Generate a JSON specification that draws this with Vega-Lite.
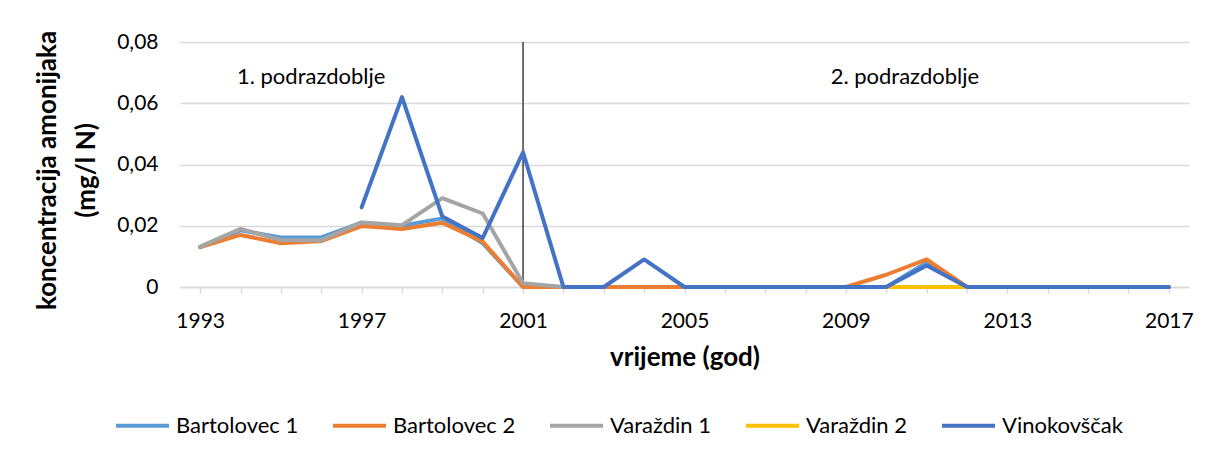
{
  "$schema": "https://vega.github.io/schema/vega-lite/v6.json",
  "width": 1009,
  "height": 245,
  "autosize": {"type": "none"},
  "padding": {"left": 180, "top": 42, "right": 19, "bottom": 172},
  "background": "white",
  "config": {
    "font": "Lato",
    "view": {"stroke": null},
    "axis": {"labelColor": "#000000", "titleColor": "#000000", "labelFontSize": 21, "titleFontSize": 26, "titleFontWeight": "bold", "labelFont": "Lato", "titleFont": "Lato"}
  },
  "datasets": {
    "mjerenja": [
      {"god": 1993, "postaja": "Bartolovec 1", "c": 0.013},
      {"god": 1994, "postaja": "Bartolovec 1", "c": 0.0185},
      {"god": 1995, "postaja": "Bartolovec 1", "c": 0.0162},
      {"god": 1996, "postaja": "Bartolovec 1", "c": 0.0162},
      {"god": 1997, "postaja": "Bartolovec 1", "c": 0.021},
      {"god": 1998, "postaja": "Bartolovec 1", "c": 0.020},
      {"god": 1999, "postaja": "Bartolovec 1", "c": 0.0224},
      {"god": 2000, "postaja": "Bartolovec 1", "c": 0.0143},
      {"god": 2001, "postaja": "Bartolovec 1", "c": 0},
      {"god": 2002, "postaja": "Bartolovec 1", "c": 0},
      {"god": 2003, "postaja": "Bartolovec 1", "c": 0},
      {"god": 2004, "postaja": "Bartolovec 1", "c": 0},
      {"god": 2005, "postaja": "Bartolovec 1", "c": 0},
      {"god": 2006, "postaja": "Bartolovec 1", "c": 0},
      {"god": 2007, "postaja": "Bartolovec 1", "c": 0},
      {"god": 2008, "postaja": "Bartolovec 1", "c": 0},
      {"god": 2009, "postaja": "Bartolovec 1", "c": 0},
      {"god": 2010, "postaja": "Bartolovec 1", "c": 0},
      {"god": 2011, "postaja": "Bartolovec 1", "c": 0.008},
      {"god": 2012, "postaja": "Bartolovec 1", "c": 0},
      {"god": 2013, "postaja": "Bartolovec 1", "c": 0},
      {"god": 2014, "postaja": "Bartolovec 1", "c": 0},
      {"god": 2015, "postaja": "Bartolovec 1", "c": 0},
      {"god": 2016, "postaja": "Bartolovec 1", "c": 0},
      {"god": 2017, "postaja": "Bartolovec 1", "c": 0},
      {"god": 1993, "postaja": "Bartolovec 2", "c": 0.013},
      {"god": 1994, "postaja": "Bartolovec 2", "c": 0.017},
      {"god": 1995, "postaja": "Bartolovec 2", "c": 0.0143},
      {"god": 1996, "postaja": "Bartolovec 2", "c": 0.015},
      {"god": 1997, "postaja": "Bartolovec 2", "c": 0.0199},
      {"god": 1998, "postaja": "Bartolovec 2", "c": 0.0189},
      {"god": 1999, "postaja": "Bartolovec 2", "c": 0.021},
      {"god": 2000, "postaja": "Bartolovec 2", "c": 0.0148},
      {"god": 2001, "postaja": "Bartolovec 2", "c": 0},
      {"god": 2002, "postaja": "Bartolovec 2", "c": 0},
      {"god": 2003, "postaja": "Bartolovec 2", "c": 0},
      {"god": 2004, "postaja": "Bartolovec 2", "c": 0},
      {"god": 2005, "postaja": "Bartolovec 2", "c": 0},
      {"god": 2006, "postaja": "Bartolovec 2", "c": 0},
      {"god": 2007, "postaja": "Bartolovec 2", "c": 0},
      {"god": 2008, "postaja": "Bartolovec 2", "c": 0},
      {"god": 2009, "postaja": "Bartolovec 2", "c": 0},
      {"god": 2010, "postaja": "Bartolovec 2", "c": 0.004},
      {"god": 2011, "postaja": "Bartolovec 2", "c": 0.009},
      {"god": 2012, "postaja": "Bartolovec 2", "c": 0},
      {"god": 2013, "postaja": "Bartolovec 2", "c": 0},
      {"god": 2014, "postaja": "Bartolovec 2", "c": 0},
      {"god": 2015, "postaja": "Bartolovec 2", "c": 0},
      {"god": 2016, "postaja": "Bartolovec 2", "c": 0},
      {"god": 2017, "postaja": "Bartolovec 2", "c": 0},
      {"god": 1993, "postaja": "Varaždin 1", "c": 0.0132},
      {"god": 1994, "postaja": "Varaždin 1", "c": 0.019},
      {"god": 1995, "postaja": "Varaždin 1", "c": 0.0153},
      {"god": 1996, "postaja": "Varaždin 1", "c": 0.0153},
      {"god": 1997, "postaja": "Varaždin 1", "c": 0.0211},
      {"god": 1998, "postaja": "Varaždin 1", "c": 0.0202},
      {"god": 1999, "postaja": "Varaždin 1", "c": 0.029},
      {"god": 2000, "postaja": "Varaždin 1", "c": 0.024},
      {"god": 2001, "postaja": "Varaždin 1", "c": 0.0012},
      {"god": 2002, "postaja": "Varaždin 1", "c": 0},
      {"god": 2003, "postaja": "Varaždin 1", "c": 0},
      {"god": 2004, "postaja": "Varaždin 1", "c": null},
      {"god": 2005, "postaja": "Varaždin 1", "c": 0},
      {"god": 2006, "postaja": "Varaždin 1", "c": 0},
      {"god": 2007, "postaja": "Varaždin 1", "c": 0},
      {"god": 2008, "postaja": "Varaždin 1", "c": 0},
      {"god": 2009, "postaja": "Varaždin 1", "c": 0},
      {"god": 2010, "postaja": "Varaždin 1", "c": 0},
      {"god": 2011, "postaja": "Varaždin 1", "c": 0},
      {"god": 2012, "postaja": "Varaždin 1", "c": 0},
      {"god": 2013, "postaja": "Varaždin 1", "c": 0},
      {"god": 2014, "postaja": "Varaždin 1", "c": 0},
      {"god": 2015, "postaja": "Varaždin 1", "c": 0},
      {"god": 2016, "postaja": "Varaždin 1", "c": 0},
      {"god": 2017, "postaja": "Varaždin 1", "c": 0},
      {"god": 2005, "postaja": "Varaždin 2", "c": 0},
      {"god": 2006, "postaja": "Varaždin 2", "c": 0},
      {"god": 2007, "postaja": "Varaždin 2", "c": 0},
      {"god": 2008, "postaja": "Varaždin 2", "c": 0},
      {"god": 2009, "postaja": "Varaždin 2", "c": 0},
      {"god": 2010, "postaja": "Varaždin 2", "c": 0},
      {"god": 2011, "postaja": "Varaždin 2", "c": 0},
      {"god": 2012, "postaja": "Varaždin 2", "c": 0},
      {"god": 2013, "postaja": "Varaždin 2", "c": 0},
      {"god": 2014, "postaja": "Varaždin 2", "c": 0},
      {"god": 2015, "postaja": "Varaždin 2", "c": 0},
      {"god": 2016, "postaja": "Varaždin 2", "c": 0},
      {"god": 2017, "postaja": "Varaždin 2", "c": 0},
      {"god": 1997, "postaja": "Vinokovščak", "c": 0.026},
      {"god": 1998, "postaja": "Vinokovščak", "c": 0.062},
      {"god": 1999, "postaja": "Vinokovščak", "c": 0.023},
      {"god": 2000, "postaja": "Vinokovščak", "c": 0.016},
      {"god": 2001, "postaja": "Vinokovščak", "c": 0.044},
      {"god": 2002, "postaja": "Vinokovščak", "c": 0},
      {"god": 2003, "postaja": "Vinokovščak", "c": 0},
      {"god": 2004, "postaja": "Vinokovščak", "c": 0.009},
      {"god": 2005, "postaja": "Vinokovščak", "c": 0},
      {"god": 2006, "postaja": "Vinokovščak", "c": 0},
      {"god": 2007, "postaja": "Vinokovščak", "c": 0},
      {"god": 2008, "postaja": "Vinokovščak", "c": 0},
      {"god": 2009, "postaja": "Vinokovščak", "c": 0},
      {"god": 2010, "postaja": "Vinokovščak", "c": 0},
      {"god": 2011, "postaja": "Vinokovščak", "c": 0.007},
      {"god": 2012, "postaja": "Vinokovščak", "c": 0},
      {"god": 2013, "postaja": "Vinokovščak", "c": 0},
      {"god": 2014, "postaja": "Vinokovščak", "c": 0},
      {"god": 2015, "postaja": "Vinokovščak", "c": 0},
      {"god": 2016, "postaja": "Vinokovščak", "c": 0},
      {"god": 2017, "postaja": "Vinokovščak", "c": 0}
    ],
    "granica": [{"god": 2001}],
    "oznake": [
      {"god": 1995.75, "c": 0.0686, "tekst": "1. podrazdoblje"},
      {"god": 2010.46, "c": 0.0686, "tekst": "2. podrazdoblje"}
    ]
  },
  "layer": [
    {
      "data": {"name": "granica"},
      "mark": {"type": "rule", "color": "#404040", "strokeWidth": 1.5},
      "encoding": {
        "x": {"field": "god", "type": "quantitative", "title": "vrijeme (god)", "scale": {"domain": [1992.5, 2017.5], "nice": false, "zero": false}}
      }
    },
    {
      "data": {"name": "mjerenja"},
      "mark": {"type": "line", "strokeWidth": 4, "strokeJoin": "round", "strokeCap": "round", "invalid": "break-paths-show-domains"},
      "encoding": {
        "x": {
          "field": "god", "type": "quantitative", "title": "vrijeme (god)",
          "scale": {"domain": [1992.5, 2017.5], "nice": false, "zero": false},
          "axis": {
            "values": [1993, 1994, 1995, 1996, 1997, 1998, 1999, 2000, 2001, 2002, 2003, 2004, 2005, 2006, 2007, 2008, 2009, 2010, 2011, 2012, 2013, 2014, 2015, 2016, 2017],
            "labelExpr": "(datum.value - 1993) % 4 == 0 ? format(datum.value, 'd') : ''",
            "grid": false,
            "domainColor": "#d9d9d9", "domainWidth": 1.5,
            "tickColor": "#d9d9d9", "tickWidth": 1.5, "tickSize": 6,
            "labelPadding": 17, "labelFlush": false, "labelOverlap": false,
            "titlePadding": 13
          }
        },
        "y": {
          "field": "c", "type": "quantitative", "title": ["koncentracija amonijaka", "(mg/l N)"],
          "scale": {"domain": [0, 0.08], "nice": false},
          "axis": {
            "values": [0, 0.02, 0.04, 0.06, 0.08],
            "labelExpr": "datum.value == 0 ? '0' : replace(format(datum.value, '.2f'), '.', ',')",
            "grid": true, "gridColor": "#d9d9d9", "gridWidth": 1.5,
            "domain": false, "ticks": false,
            "labelPadding": 22,
            "titleLineHeight": 39,
            "titleAngle": -90,
            "titleX": -146, "titleY": 128, "titleAlign": "center", "titleBaseline": "top"
          }
        },
        "color": {
          "field": "postaja", "type": "nominal",
          "scale": {"domain": ["Bartolovec 1", "Bartolovec 2", "Varaždin 1", "Varaždin 2", "Vinokovščak"], "range": ["#5B9BD5", "#ED7D31", "#A5A5A5", "#FFC000", "#4472C4"]},
          "legend": {
            "title": null, "orient": "none", "direction": "horizontal",
            "legendX": -66, "legendY": 355,
            "symbolType": "stroke", "symbolSize": 2809, "symbolStrokeWidth": 4,
            "labelFontSize": 22, "labelFont": "Lato", "labelColor": "#000000",
            "labelOffset": 5, "columnPadding": 26, "padding": 0
          }
        }
      }
    },
    {
      "data": {"name": "oznake"},
      "mark": {"type": "text", "fontSize": 22, "font": "Lato", "color": "#000000", "align": "center", "baseline": "middle"},
      "encoding": {
        "x": {"field": "god", "type": "quantitative", "title": "vrijeme (god)", "scale": {"domain": [1992.5, 2017.5], "nice": false, "zero": false}},
        "y": {"field": "c", "type": "quantitative", "title": ["koncentracija amonijaka", "(mg/l N)"], "scale": {"domain": [0, 0.08], "nice": false}},
        "text": {"field": "tekst"}
      }
    }
  ]
}
